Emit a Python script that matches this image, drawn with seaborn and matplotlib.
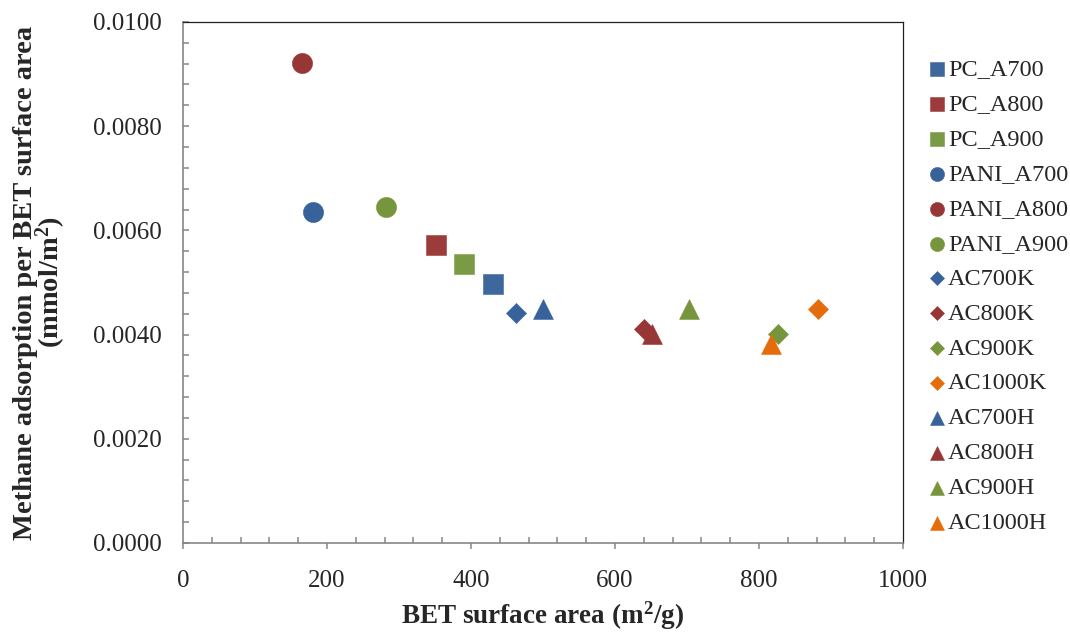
import matplotlib
matplotlib.use("Agg")
import matplotlib.pyplot as plt
from matplotlib.ticker import MultipleLocator, FormatStrFormatter
import seaborn as sns
import pandas as pd

# Samples, BET surface area (m2/g) and methane uptake normalised by surface area (mmol/m2)
samples = ["PC_A700", "PC_A800", "PC_A900",
           "PANI_A700", "PANI_A800", "PANI_A900",
           "AC700K", "AC800K", "AC900K", "AC1000K",
           "AC700H", "AC800H", "AC900H", "AC1000H"]
bet_area = [430, 351, 390,
            180, 165, 282,
            462, 640, 826, 882,
            500, 651, 703, 817]
ch4_per_area = [0.00498, 0.00571, 0.00535,
                0.00636, 0.00921, 0.00644,
                0.00441, 0.00410, 0.00402, 0.00450,
                0.00450, 0.00402, 0.00450, 0.00382]

# Marker family per sample group and colour per activation temperature
markers = ["s", "s", "s", "o", "o", "o", "D", "D", "D", "D", "^", "^", "^", "^"]
colors = ["#3D679D", "#9B3C3A", "#7A9A45",
          "#37629A", "#963735", "#77953C",
          "#37629A", "#963735", "#77953C", "#E46C0A",
          "#37629A", "#963735", "#77953C", "#E46C0A"]
marker_area = {"s": 200, "o": 210, "D": 105, "^": 205}

df = pd.DataFrame({"sample": samples, "bet": bet_area, "ch4": ch4_per_area})

sns.set_style("white")
plt.rcParams["font.family"] = ["Liberation Serif", "DejaVu Serif"]
# superscripts in the bold axis titles
plt.rcParams["mathtext.fontset"] = "custom"
plt.rcParams["mathtext.rm"] = "Liberation Serif:bold"
plt.rcParams["mathtext.it"] = "Liberation Serif:bold"
plt.rcParams["mathtext.bf"] = "Liberation Serif:bold"

fig = plt.figure(figsize=(10.70, 6.35), dpi=100)
ax = fig.add_axes([0.171, 0.1449, 0.673, 0.8205])

for i, row in df.iterrows():
    sns.scatterplot(data=df.iloc[[i]], x="bet", y="ch4", ax=ax,
                    marker=markers[i], color=colors[i], s=marker_area[markers[i]],
                    edgecolor=colors[i], linewidth=0.4, label=row["sample"], legend=False,
                    zorder=3)

ax.set_xlim(0, 1000)
ax.set_ylim(0, 0.0100)
ax.xaxis.set_major_locator(MultipleLocator(200))
ax.xaxis.set_minor_locator(MultipleLocator(40))
ax.yaxis.set_major_locator(MultipleLocator(0.002))
ax.yaxis.set_minor_locator(MultipleLocator(0.0004))
ax.yaxis.set_major_formatter(FormatStrFormatter("%.4f"))

axis_gray = "#868686"
for side in ("left", "bottom"):
    ax.spines[side].set_color(axis_gray)
    ax.spines[side].set_linewidth(1.2)
for side in ("top", "right"):
    ax.spines[side].set_color("#202020")
    ax.spines[side].set_linewidth(0.9)

ax.tick_params(axis="x", which="major", direction="out", length=4.3, width=1.1,
               color=axis_gray, labelsize=18, pad=15, bottom=True, top=False)
ax.tick_params(axis="x", which="minor", direction="in", length=4.3, width=1.1,
               color=axis_gray, bottom=True, top=False)
ax.tick_params(axis="y", which="both", direction="in", length=4.3, width=1.1,
               color=axis_gray, left=True, right=False)
ax.tick_params(axis="y", which="major", labelsize=18, pad=15)

ax.set_xlabel(r"BET surface area (m$^{2}$/g)", fontsize=19.5, fontweight="bold")
ax.set_ylabel("Methane adsorption per BET surface area\n" r"(mmol/m$^{2}$)",
              fontsize=20.5, fontweight="bold", linespacing=0.8)
ax.xaxis.set_label_coords(0.5, -0.108)
ax.yaxis.set_label_coords(-0.16, 0.5)

handles, labels = ax.get_legend_handles_labels()
fig.legend(handles, labels, loc="upper left", bbox_to_anchor=(0.869, 0.908),
           frameon=False, fontsize=17.5, markerscale=0.7, handlelength=0.6,
           handletextpad=0.15, borderpad=0, borderaxespad=0, labelspacing=0.53,
           scatterpoints=1)

fig.savefig("out.png", dpi=100)
